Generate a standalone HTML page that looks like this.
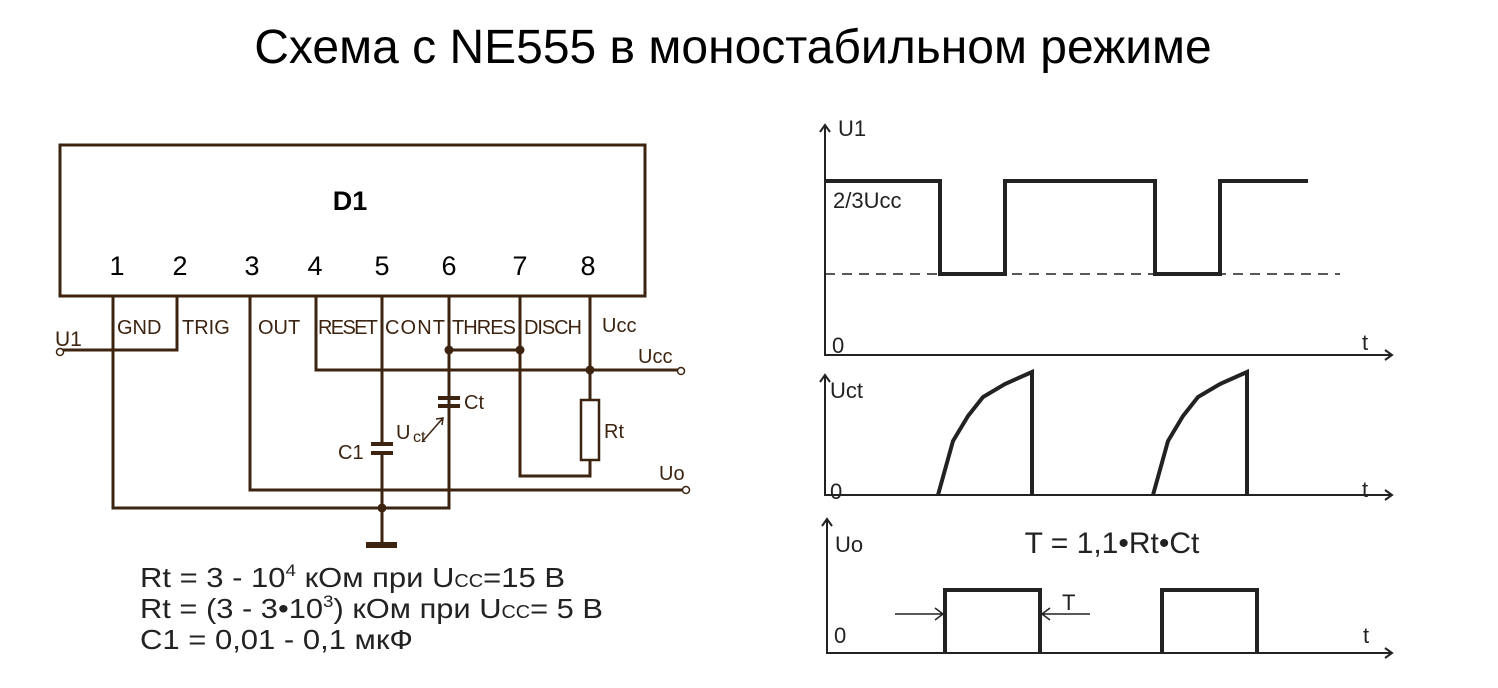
<!DOCTYPE html>
<html><head><meta charset="utf-8"><style>
html,body{margin:0;padding:0;background:#fff;width:1498px;height:688px;overflow:hidden}
svg text{font-family:"Liberation Sans",sans-serif}
</style></head><body>
<svg width="1498" height="688" viewBox="0 0 1498 688" xmlns="http://www.w3.org/2000/svg">
<text x="733" y="63" font-size="48" text-anchor="middle" fill="#000">Схема с NE555 в моностабильном режиме</text>
<g stroke="#3d2410" stroke-width="3" fill="none">
<rect x="60" y="145" width="585" height="151"/>
<path d="M113 296V508H449V296"/>
<path d="M60 350H177V296"/>
<path d="M250 296V490H682"/>
<path d="M316 296V370H678"/>
<path d="M382 296V444M382 453V545"/>
<path d="M371 444H393M371 453H393" stroke-width="4"/>
<path d="M366 545H397" stroke-width="6"/>
<path d="M449 350H520"/>
<path d="M438 398H460M438 406H460" stroke-width="4"/>
<path d="M520 296V476H590V460"/>
<path d="M590 296V400"/>
<rect x="581" y="400" width="18" height="60" stroke-width="2.5"/>
</g>
<path d="M449 296V398M449 406V508" stroke="#3d2410" stroke-width="3" fill="none"/>
<path d="M422 442L443 418M436 419L443 418L442 425" stroke="#3d2410" stroke-width="1.5" fill="none"/>
<g fill="#3d2410"><circle cx="449" cy="350" r="4.5"/><circle cx="520" cy="350" r="4.5"/><circle cx="590" cy="370" r="4.5"/><circle cx="382" cy="508" r="4.5"/></g>
<g fill="#fff" stroke="#3d2410" stroke-width="1.5"><circle cx="60" cy="352" r="3.5"/><circle cx="681" cy="371" r="3.5"/><circle cx="686" cy="490" r="3.5"/></g>
<g font-size="27" fill="#000" text-anchor="middle">
<text x="350" y="210" font-weight="bold">D1</text>
<text x="117" y="275">1</text><text x="180" y="275">2</text><text x="252" y="275">3</text><text x="315" y="275">4</text>
<text x="382" y="275">5</text><text x="449" y="275">6</text><text x="520" y="275">7</text><text x="588" y="275">8</text>
</g>
<g font-size="20" fill="#3d2410">
<text x="117" y="334">GND</text><text x="182" y="334">TRIG</text><text x="258" y="334">OUT</text><text x="318" y="334" textLength="60">RESET</text>
<text x="385" y="334" textLength="60">CONT</text><text x="452" y="334" textLength="64">THRES</text><text x="524" y="334" textLength="58">DISCH</text><text x="602" y="332">Ucc</text>
<text x="55" y="346" font-size="21">U1</text><text x="638" y="363">Ucc</text><text x="659" y="480">Uo</text>
<text x="464" y="409">Ct</text><text x="396" y="439">U</text><text x="413" y="442" font-size="16">ct</text>
<text x="338" y="459">C1</text><text x="604" y="438">Rt</text>
</g>
<g font-size="28" fill="#222">
<text x="140" y="587" textLength="425" lengthAdjust="spacingAndGlyphs">Rt = 3 - 10<tspan font-size="17" dy="-11">4</tspan><tspan dy="11"> кОм при U</tspan><tspan font-size="18">CC</tspan>=15 В</text>
<text x="140" y="618" textLength="463" lengthAdjust="spacingAndGlyphs">Rt = (3 - 3•10<tspan font-size="17" dy="-11">3</tspan><tspan dy="11">) кОм при U</tspan><tspan font-size="18">CC</tspan>= 5 В</text>
<text x="140" y="649" textLength="273" lengthAdjust="spacingAndGlyphs">C1 = 0,01 - 0,1 мкФ</text>
</g>
<g stroke="#222" stroke-width="2" fill="none">
<path d="M825 125V355H1392M820 132L825 125L830 132M1385 350L1392 355L1385 360"/>
<path d="M825 375V495H1392M820 382L825 375L830 382M1385 490L1392 495L1385 500"/>
<path d="M827 519V653H1392M822 526L827 519L832 526M1385 648L1392 653L1385 658"/>
<path d="M825 274H1340" stroke-dasharray="10,7" stroke-width="1.5"/>
<path d="M895 614H943M935 608L943 614L935 620M1090 614H1042M1050 608L1042 614L1050 620" stroke-width="1.5"/>
</g>
<g stroke="#222" stroke-width="4" fill="none">
<path d="M825 181H940V274H1005V181H1155V274H1220V181H1308"/>
<path d="M938 495L953 441L968 416L983 397L1005 384L1032 372V495"/>
<path d="M1153 495L1168 441L1183 416L1198 397L1220 384L1247 372V495"/>
<path d="M945 653V590H1040V653M1162 653V590H1257V653"/>
</g>
<g font-size="22" fill="#222">
<text x="838" y="136">U1</text><text x="833" y="208">2/3Ucc</text><text x="832" y="353">0</text><text x="1362" y="350">t</text>
<text x="830" y="398">Uct</text><text x="830" y="499">0</text><text x="1362" y="497">t</text>
<text x="835" y="552">Uo</text><text x="834" y="643">0</text><text x="1363" y="643">t</text>
<text x="1062" y="610">T</text>
<text x="1112" y="553" font-size="30" text-anchor="middle">T = 1,1•Rt•Ct</text>
</g>
</svg>
</body></html>
